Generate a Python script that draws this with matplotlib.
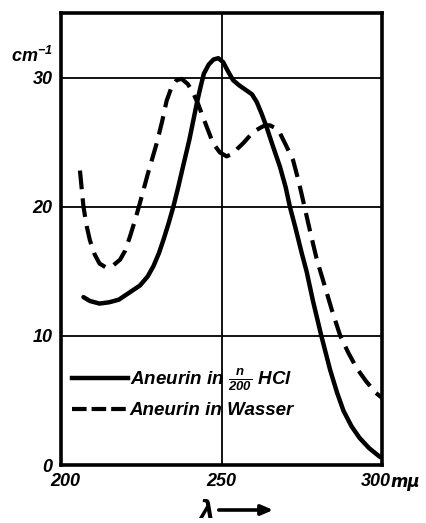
import matplotlib
matplotlib.use('Agg')
import matplotlib.pyplot as plt
import matplotlib.transforms as mtransforms
from matplotlib.lines import Line2D

FONT = ['Liberation Sans Narrow', 'Liberation Sans', 'DejaVu Sans']
plt.rcParams['font.family'] = FONT
plt.rcParams['font.style'] = 'italic'
plt.rcParams['font.weight'] = 'bold'
plt.rcParams['mathtext.fontset'] = 'custom'
plt.rcParams['mathtext.rm'] = 'Liberation Sans:italic:bold'
plt.rcParams['mathtext.it'] = 'Liberation Sans:italic:bold'
plt.rcParams['mathtext.bf'] = 'Liberation Sans:italic:bold'

# Aneurin in n/200 HCl (solid)
hcl_wl = [207, 209, 212, 215, 218, 221, 224.6, 227, 228.8, 230.5, 232, 233.5, 235,
          236.5, 238, 240, 242.3, 243.5, 244.5, 246, 247.5, 249, 250.5, 252, 253.6,
          255.5, 257.8, 259.5, 261, 262.5, 264, 266, 268.2, 270, 271.3, 273, 275,
          276.5, 278.5, 281, 283.8, 286, 288, 290.5, 293, 296, 299.5]
hcl_val = [13.0, 12.7, 12.5, 12.6, 12.8, 13.3, 13.9, 14.6, 15.4, 16.4, 17.5, 18.7, 20.0,
           21.5, 23.1, 25.2, 28.0, 29.3, 30.3, 31.0, 31.4, 31.5, 31.2, 30.5, 29.8,
           29.4, 29.0, 28.7, 28.1, 27.2, 26.2, 24.7, 23.1, 21.5, 20.0, 18.4, 16.4,
           15.0, 12.7, 10.1, 7.4, 5.6, 4.2, 3.0, 2.1, 1.3, 0.6]

# Aneurin in Wasser (dashed)
water_wl = [205.9, 207, 208, 209, 210.5, 212, 214, 216, 218.4, 220, 221.5, 223, 224.6,
            227, 229.8, 231.5, 232.9, 234.5, 236, 237.6, 239.5, 241.2, 242.8, 244.3,
            246, 247.4, 249.5, 251.6, 253.5, 255, 256.7, 258.5, 260, 262, 263.5, 265.1,
            266.7, 268.2, 270, 272.3, 274, 275.4, 277.5, 279.7, 282, 284.5, 287, 289.5,
            292.1, 295, 298, 300]
water_val = [22.8, 20.0, 18.5, 17.4, 16.3, 15.6, 15.3, 15.4, 15.9, 16.6, 17.7, 18.9, 20.3,
             22.5, 24.9, 26.6, 28.2, 29.3, 29.8, 29.9, 29.5, 28.8, 27.9, 26.9,
             25.8, 24.9, 24.2, 23.9, 24.1, 24.5, 24.9, 25.4, 25.8, 26.1, 26.3, 26.3,
             26.1, 25.7, 24.8, 23.6, 22.0, 20.5, 18.2, 15.9, 14.0, 11.9, 10.0, 8.7,
             7.5, 6.5, 5.6, 5.2]

x_ticks = [200, 250, 300]
y_ticks = [0, 10, 20, 30]

fig = plt.figure(figsize=(4.27, 5.23), dpi=100)
ax = fig.add_axes([61 / 427, 1 - 465 / 523, 321 / 427, 452 / 523])

ax.plot(hcl_wl, hcl_val, color='black', lw=3.2, solid_capstyle='round', zorder=3)
ax.plot(water_wl, water_val, color='black', lw=3.0, dashes=(4.5, 2.2), zorder=3)

ax.set_xlim(200, 300)
ax.set_ylim(0, 35)
ax.set_xticks(x_ticks)
ax.set_yticks(y_ticks)
ax.set_xticklabels([str(v) for v in x_ticks])
ax.set_yticklabels([str(v) for v in y_ticks])
ax.tick_params(length=0, labelsize=13, pad=6)
ax.grid(True, color='black', lw=1.3)
for s in ax.spines.values():
    s.set_linewidth(2.6)

# nudge first/last x labels like the original print
shifts = [4, 0, -6]
for lab, dx in zip(ax.get_xticklabels(), shifts):
    off = mtransforms.ScaledTranslation(dx / 100, 0, fig.dpi_scale_trans)
    lab.set_transform(lab.get_transform() + off)

ax.text(-0.025, 0.905, r'cm$^{-1}$', transform=ax.transAxes,
        ha='right', va='center', fontsize=13)
ax.text(1.025, -0.038, 'mμ', transform=ax.transAxes, ha='left', va='center',
        fontsize=12, family=['DejaVu Sans'], style='italic', weight='bold')

# lambda with arrow below the axis
fig.text(207 / 427, 1 - 511 / 523, 'λ', ha='center', va='center', fontsize=17,
         family=['DejaVu Sans'], style='italic', weight='bold')
ax.annotate('', xy=(276 / 427, 1 - 510 / 523), xytext=(216 / 427, 1 - 510 / 523),
            xycoords='figure fraction', textcoords='figure fraction',
            arrowprops=dict(arrowstyle='-|>,head_length=0.7,head_width=0.3',
                            lw=2.6, color='black'))

handles = [Line2D([], [], color='black', lw=3.2),
           Line2D([], [], color='black', lw=3.0, dashes=(3.5, 1.2))]
labels = [r'Aneurin in $\frac{n}{200}$ HCl', 'Aneurin in Wasser']
leg = ax.legend(handles, labels, loc='lower left', bbox_to_anchor=(0.01, 0.085),
                frameon=False, fontsize=13.5, handlelength=3.0, handletextpad=0.1,
                labelspacing=0.5, borderaxespad=0)

fig.savefig('out.png', dpi=100)
